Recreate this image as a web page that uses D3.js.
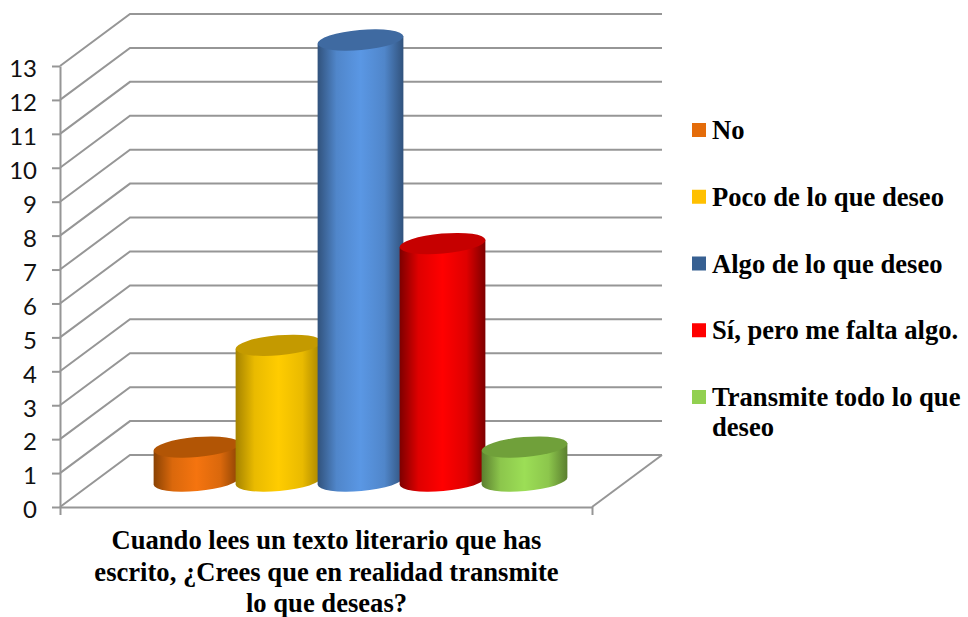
<!DOCTYPE html>
<html>
<head>
<meta charset="utf-8">
<script src="https://cdn.jsdelivr.net/npm/d3@7"></script>
<style>
html, body { margin: 0; padding: 0; background: #fff; }
svg { display: block; }
.axis text { font-family: Lato, sans-serif; font-size: 24px; fill: #111; }
.axis path, .axis line { stroke: #969696; stroke-width: 2px; }
.grid { fill: none; stroke: #969696; stroke-width: 2px; }
.legend text, .title { font-family: "Liberation Serif", serif; font-weight: bold; font-size: 26.6px; fill: #000; }
</style>
</head>
<body>
<svg class="chart" width="968" height="617"></svg>
<script>
var categories = ["No", "Poco de lo que deseo", "Algo de lo que deseo", "Sí, pero me falta algo.", "Transmite todo lo que deseo"];
var values = [1, 4, 13, 7, 1];
var sideEdge = ["#8a4203", "#a58300", "#31527c", "#7d0000", "#5b7f2f"];
var sideMid = ["#f5740f", "#ffcc00", "#5a97e4", "#ff0000", "#9cde56"];
var lidColors = ["#b25505", "#c49a00", "#3f6aa1", "#c60000", "#70a03a"];
var legendColors = ["#e46c0a", "#ffc000", "#376092", "#ff0000", "#92d050"];
var legendLines = [["No"], ["Poco de lo que deseo"], ["Algo de lo que deseo"], ["Sí, pero me falta algo."], ["Transmite todo lo que", "deseo"]];
var titleLines = ["Cuando lees un texto literario que has", "escrito, ¿Crees que en realidad transmite", "lo que deseas?"];
var yTicks = d3.range(0, 14);

var svg = d3.select(".chart");

// front plane of the 3d box, the back wall is shifted by depth
var front = {left: 60, right: 592, bottom: 507, top: 66};
var depth = {x: 70, y: -52};

var y = d3.scaleLinear().domain([0, 13]).range([front.bottom, front.top]);
var xEdge = d3.scaleLinear().domain([0, 1]).range([front.left, front.right]);
var x = d3.scaleBand().domain(categories)
    .range([front.left + depth.x / 2 - 0.5, front.right + depth.x / 2 - 0.5])
    .paddingInner(0).paddingOuter(0.744);

// gridlines and floor
svg.selectAll(".grid")
    .data(yTicks)
    .enter().append("path")
    .attr("class", "grid")
    .attr("d", function (d) {
        return d3.line()([
            [front.left, y(d)],
            [front.left + depth.x, y(d) + depth.y],
            [front.right + depth.x, y(d) + depth.y]
        ]);
    });

svg.append("path")
    .attr("class", "grid")
    .attr("d", d3.line()([
        [front.right, front.bottom],
        [front.right + depth.x, front.bottom + depth.y]
    ]));

svg.append("g")
    .attr("class", "axis")
    .attr("transform", "translate(" + front.left + ",0)")
    .call(d3.axisLeft(y).tickValues(yTicks).tickSize(8).tickSizeOuter(0).tickPadding(15).tickFormat(d3.format("d")))
    .selectAll("text").attr("dy", "0.45em");

svg.append("g")
    .attr("class", "axis")
    .attr("transform", "translate(0," + front.bottom + ")")
    .call(d3.axisBottom(xEdge).tickValues([0, 1]).tickSize(8).tickSizeOuter(0).tickFormat(""));

// cylinders
var defs = svg.append("defs");
categories.forEach(function (c, i) {
    var g = defs.append("linearGradient").attr("id", "side" + i);
    g.append("stop").attr("offset", "0%").attr("stop-color", sideEdge[i]);
    g.append("stop").attr("offset", "22%").attr("stop-color", d3.interpolateRgb(sideEdge[i], sideMid[i])(0.75));
    g.append("stop").attr("offset", "50%").attr("stop-color", sideMid[i]);
    g.append("stop").attr("offset", "78%").attr("stop-color", d3.interpolateRgb(sideEdge[i], sideMid[i])(0.75));
    g.append("stop").attr("offset", "100%").attr("stop-color", sideEdge[i]);
});

var tilt = -5;
var rx = x.bandwidth() * 0.525;
var ry = 10;
var tiltX = rx * Math.cos(tilt * Math.PI / 180);
var tiltY = rx * Math.sin(tilt * Math.PI / 180);
var floorY = front.bottom + depth.y / 2;

function base(v) { return y(v) + depth.y / 2; }

var bars = svg.selectAll(".bar")
    .data(categories)
    .enter().append("g")
    .attr("class", "bar");

bars.append("path")
    .attr("fill", function (d, i) { return "url(#side" + i + ")"; })
    .attr("d", function (d, i) {
        var cx = x(d) + x.bandwidth() / 2;
        var top = base(values[i]);
        return "M" + (cx - tiltX) + "," + (top - tiltY)
            + "L" + (cx - tiltX) + "," + (floorY - tiltY)
            + "A" + rx + "," + ry + " " + tilt + " 0 0 " + (cx + tiltX) + "," + (floorY + tiltY)
            + "L" + (cx + tiltX) + "," + (top + tiltY) + "Z";
    });

bars.append("ellipse")
    .attr("fill", function (d, i) { return lidColors[i]; })
    .attr("rx", rx)
    .attr("ry", ry)
    .attr("transform", function (d, i) {
        return "translate(" + (x(d) + x.bandwidth() / 2) + "," + base(values[i]) + ") rotate(" + tilt + ")";
    });

// legend
var legendY = d3.scalePoint().domain(categories).range([130, 397]);

var legend = svg.selectAll(".legend")
    .data(categories)
    .enter().append("g")
    .attr("class", "legend")
    .attr("transform", function (d) { return "translate(692," + legendY(d) + ")"; });

legend.append("rect")
    .attr("y", -7)
    .attr("width", 14)
    .attr("height", 14)
    .attr("fill", function (d, i) { return legendColors[i]; });

legend.selectAll("text")
    .data(function (d, i) { return legendLines[i]; })
    .enter().append("text")
    .attr("x", 20)
    .attr("y", function (d, i) { return 9 + i * 30; })
    .text(function (d) { return d; });

// category title
svg.selectAll(".title")
    .data(titleLines)
    .enter().append("text")
    .attr("class", "title")
    .attr("text-anchor", "middle")
    .attr("x", 326.5)
    .attr("y", function (d, i) { return 549 + i * 31.5; })
    .text(function (d) { return d; });
</script>
</body>
</html>
